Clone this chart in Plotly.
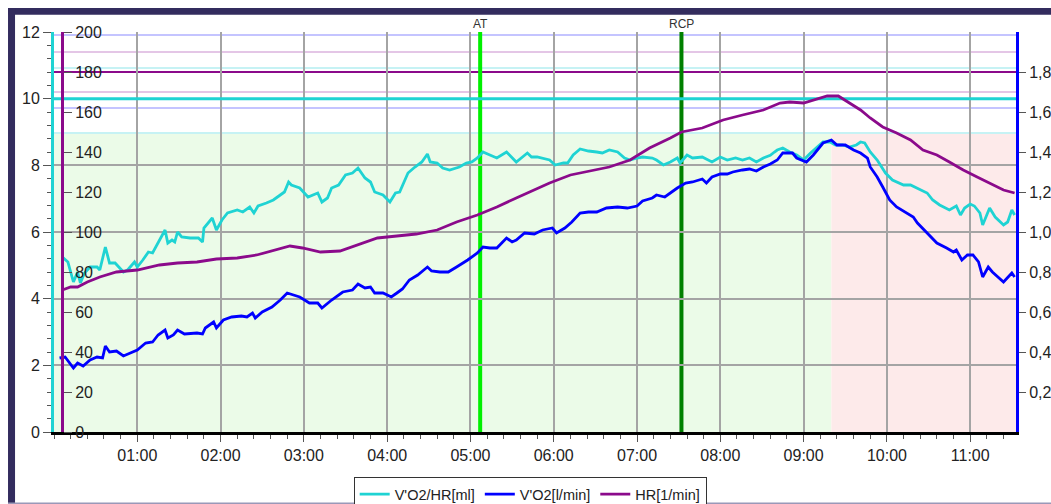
import plotly.graph_objects as go

# ---------------- data (time in seconds) ----------------
t_vo2hr = [6, 10, 14, 17, 19, 22, 26, 31, 33, 37, 40, 44, 50, 53, 58, 60, 64, 68, 71, 80, 82, 85, 87, 89, 92,
           98, 104, 107, 108, 114, 117, 121, 125, 132, 136, 141, 144, 147, 153, 158, 163, 166, 169, 171,
           177, 183, 190, 193, 197, 200, 205, 210, 215, 219, 224, 228, 231, 237, 242, 246, 249, 255, 260,
           265, 269, 271, 276, 280, 285, 292, 297, 301, 305, 309, 314, 319, 326, 330, 333, 341, 344,
           348, 352, 357, 361, 367, 370, 374, 379, 385, 391, 395, 400, 406, 411, 415, 420, 424, 431, 434,
           439, 444, 449, 451, 456, 460, 467, 474, 480, 485, 491, 496, 501, 506, 511, 516, 519,
           521, 525, 530, 535, 540, 545, 550, 554, 559, 563, 568, 573, 578, 581, 584, 588, 593, 599, 604,
           612, 617, 622, 629, 633, 638, 645, 650, 653, 656, 660, 663, 667, 669, 674, 678, 684, 687, 690, 692]
vo2hr = [5.25, 5.1, 4.5, 4.8, 4.47, 4.77, 4.95, 4.95, 4.86, 5.55, 5.07, 5.07, 4.8, 4.86, 5.1, 4.95, 5.16, 5.4, 5.37,
         6.06, 5.67, 5.76, 5.7, 6.0, 5.85, 5.82, 5.82, 5.7, 6.12, 6.42, 6.06, 6.36, 6.57, 6.66, 6.6, 6.75, 6.57,
         6.78, 6.87, 6.96, 7.11, 7.2, 7.5, 7.41,
         7.32, 7.05, 7.17, 6.9, 7.02, 7.32, 7.41, 7.71, 7.77, 7.92, 7.62, 7.5, 7.2, 7.11, 6.9, 7.17, 7.2, 7.77, 7.95,
         8.1, 8.34, 8.1, 8.07, 7.92, 7.86, 7.95, 8.07, 8.1, 8.22, 8.4, 8.31, 8.22, 8.4, 8.22, 8.1, 8.37, 8.25,
         8.25, 8.22, 8.16, 8.01, 8.07, 8.07, 8.31, 8.49, 8.43, 8.4, 8.37, 8.46, 8.4, 8.22, 8.16, 8.22, 8.25, 8.22,
         8.16, 8.01, 8.1, 8.22, 8.07, 8.31, 8.22, 8.25, 8.1, 8.25, 8.16, 8.22, 8.16, 8.22, 8.1, 8.22, 8.3, 8.4,
         8.46, 8.52, 8.4, 8.31, 8.16, 8.37, 8.55, 8.7, 8.7, 8.61, 8.61, 8.55, 8.61, 8.7, 8.67, 8.4, 8.16, 7.77,
         7.56, 7.41, 7.41, 7.32, 7.17, 6.96, 6.81, 6.66, 6.78, 6.51, 6.72, 6.84, 6.78, 6.57, 6.21, 6.72, 6.45,
         6.21, 6.3, 6.66, 6.51]

t_vo2 = [4, 8, 14, 17, 21, 26, 31, 35, 37, 40, 45, 50, 55, 60, 66, 71, 75, 80, 82, 86, 89, 94, 103, 107, 109,
         115, 117, 122, 128, 135, 139, 143, 145, 150, 157, 163, 168,
         177, 184, 190, 193, 200, 208, 215, 219, 224, 228, 231, 237, 243, 247, 251, 256, 262, 269, 272, 278,
         284, 290, 295, 298, 305, 309, 314, 319, 326, 330, 333, 339,
         346, 352, 359, 362, 368, 373, 379, 385, 391, 398, 406, 413, 420, 424, 431, 434, 440, 444, 449, 455,
         460, 467, 470, 474, 480, 485, 489, 496, 501, 506, 511, 516,
         521, 525, 532, 535, 542, 547, 554, 560, 564, 570, 576, 581, 586, 588, 593, 597, 602, 607, 614, 619,
         622, 629, 636, 643, 648, 650, 654, 658, 662, 666, 669, 673, 676, 684, 687, 690, 692]
vo2 = [0.37, 0.375, 0.32, 0.345, 0.33, 0.36, 0.375, 0.37, 0.43, 0.40, 0.405, 0.38, 0.395, 0.41, 0.445, 0.45,
       0.485, 0.51, 0.47, 0.485, 0.51, 0.49, 0.495, 0.49, 0.52, 0.55, 0.52, 0.56, 0.575, 0.58, 0.575, 0.595,
       0.57, 0.60, 0.625, 0.66, 0.695,
       0.675, 0.645, 0.645, 0.62, 0.66, 0.70, 0.71, 0.74, 0.72, 0.725, 0.695, 0.695, 0.675, 0.695, 0.715,
       0.76, 0.785, 0.825, 0.805, 0.80, 0.80, 0.825, 0.845, 0.86, 0.895, 0.925, 0.92, 0.92, 0.97, 0.95, 0.96,
       0.995,
       0.99, 1.01, 1.02, 0.995, 1.02, 1.05, 1.095, 1.10, 1.10, 1.12, 1.125, 1.12, 1.13, 1.155, 1.17, 1.185,
       1.175, 1.195, 1.22, 1.245, 1.25, 1.265, 1.245, 1.275, 1.29, 1.29, 1.30, 1.31, 1.315, 1.305, 1.325, 1.34,
       1.36, 1.395, 1.395, 1.37, 1.35, 1.385, 1.445, 1.46, 1.435, 1.435, 1.41, 1.395, 1.37, 1.325, 1.275,
       1.225, 1.16, 1.125, 1.095, 1.075, 1.045, 0.995, 0.945, 0.92, 0.90, 0.91, 0.86, 0.885, 0.885, 0.85,
       0.775, 0.825, 0.80, 0.75, 0.775, 0.795, 0.775]

t_hr = [6, 12, 17, 24, 33, 45, 60, 76, 89, 103, 117, 132, 146, 161, 170, 179, 192, 206, 218, 233, 247, 261,
        276, 290, 305, 319, 333, 346, 357, 372, 386, 400, 415, 429, 444, 452, 467, 482, 496, 511, 523, 530,
        540, 550, 557, 565, 573, 581, 588, 597, 607, 617, 626, 636, 645, 655, 665, 674, 684, 692]
hr = [71, 72.5, 72.5, 75, 77.5, 80, 81, 83.5, 84.5, 85, 86.5, 87, 88.5, 91.5, 93, 92, 90, 90.5, 93.5, 97, 98,
      99, 101, 105, 108.5, 112.5, 117, 121, 124.5, 128.5, 130.5, 132.5, 136, 142, 147, 150, 152, 156, 158.5,
      161, 164.5, 165, 164.5, 166.5, 168, 168, 164.5, 161, 157, 152.5, 149.5, 146, 141, 138.5, 135, 131,
      127.5, 124.5, 121, 119.5]

# events (s)
AT_S = 307
RCP_S = 452
RECOVERY_S = 560
T_END = 693

# reference levels
VO2HR_REFS = [8.97, 10.0, 10.92]
HR_REFS = [170, 180, 190]
VO2_REFS = [1.62, 1.985]

x_tickvals = [60, 120, 180, 240, 300, 360, 420, 480, 540, 600, 660]
x_ticktext = ["01:00", "02:00", "03:00", "04:00", "05:00", "06:00", "07:00", "08:00", "09:00", "10:00", "11:00"]
left_tickvals = [0, 2, 4, 6, 8, 10, 12]
hr_tickvals = [0, 20, 40, 60, 80, 100, 120, 140, 160, 180, 200]
right_tickvals = [0.2, 0.4, 0.6, 0.8, 1.0, 1.2, 1.4, 1.6, 1.8]
right_ticktext = ["0,2", "0,4", "0,6", "0,8", "1,0", "1,2", "1,4", "1,6", "1,8"]

CYAN = "#1fd3d3"
BLUE = "#0000ff"
PURPLE = "#8b0a8b"
FONT = "Liberation Sans, Arial, sans-serif"

fig = go.Figure()
# cyan reference level at 10 (drawn above the grid)
fig.add_trace(go.Scatter(x=[0, T_END], y=[VO2HR_REFS[1], VO2HR_REFS[1]], mode="lines",
                         line=dict(color=CYAN, width=3), showlegend=False, hoverinfo="skip", yaxis="y"))
fig.add_trace(go.Scatter(x=t_vo2hr, y=vo2hr, name="V'O2/HR[ml]", mode="lines",
                         line=dict(color=CYAN, width=2.8), yaxis="y"))
fig.add_trace(go.Scatter(x=t_vo2, y=vo2, name="V'O2[l/min]", mode="lines",
                         line=dict(color=BLUE, width=2.8), yaxis="y3"))
fig.add_trace(go.Scatter(x=t_hr, y=hr, name="HR[1/min]", mode="lines",
                         line=dict(color=PURPLE, width=2.8), yaxis="y2"))

def hline(yref, val, color, width):
    return dict(type="line", xref="x", yref=yref, x0=0, x1=T_END, y0=val, y1=val,
                line=dict(color=color, width=width), layer="below")

shapes = []
# background zones
shapes.append(dict(type="rect", xref="x", yref="y", x0=0, x1=RECOVERY_S, y0=0, y1=VO2HR_REFS[0],
                   fillcolor="#ebfbe8", line=dict(width=0), layer="below"))
shapes.append(dict(type="rect", xref="x", yref="y", x0=RECOVERY_S, x1=T_END, y0=0, y1=VO2HR_REFS[0],
                   fillcolor="#fdeaea", line=dict(width=0), layer="below"))
# reference lines
shapes.append(hline("y", VO2HR_REFS[0], "#c6f2f4", 2))
shapes.append(hline("y", VO2HR_REFS[2], "#c6f2f4", 2))
shapes.append(hline("y2", HR_REFS[0], "#e4c6e6", 2))
shapes.append(hline("y2", HR_REFS[2], "#e4c6e6", 2))
shapes.append(hline("y3", VO2_REFS[0], "#c4c4ff", 2))
shapes.append(hline("y3", VO2_REFS[1], "#c4c4ff", 2))
shapes.append(hline("y2", HR_REFS[1], PURPLE, 2))
# AT / RCP
shapes.append(dict(type="line", xref="x", yref="y", x0=AT_S, x1=AT_S, y0=0, y1=12,
                   line=dict(color="#00f000", width=4), layer="below"))
shapes.append(dict(type="line", xref="x", yref="y", x0=RCP_S, x1=RCP_S, y0=0, y1=12,
                   line=dict(color="#008000", width=4), layer="below"))
# frame
shapes.append(dict(type="rect", xref="paper", yref="paper", x0=-0.0478, x1=1.04, y0=1.043, y1=1.06,
                   fillcolor="#332c5e", line=dict(width=0), layer="above"))
shapes.append(dict(type="rect", xref="paper", yref="paper", x0=-0.0478, x1=-0.0405, y0=-0.2, y1=1.06,
                   fillcolor="#332c5e", line=dict(width=0), layer="above"))
shapes.append(dict(type="rect", xref="paper", yref="paper", x0=-0.0478, x1=1.04, y0=-0.18, y1=-0.176,
                   fillcolor="#9a98b8", line=dict(width=0), layer="above"))

annotations = [
    dict(x=AT_S, y=1.02, xref="x", yref="paper", text="AT", showarrow=False,
         font=dict(size=12, color="#333", family=FONT), yanchor="middle"),
    dict(x=RCP_S, y=1.02, xref="x", yref="paper", text="RCP", showarrow=False,
         font=dict(size=12, color="#333", family=FONT), yanchor="middle"),
]

fig.update_layout(
    width=1051, height=504,
    margin=dict(l=54, r=35, t=32, b=72, autoexpand=False),
    paper_bgcolor="white", plot_bgcolor="white",
    font=dict(family=FONT, size=16, color="#222"),
    shapes=shapes, annotations=annotations,
    showlegend=True,
    legend=dict(orientation="h", x=0.495, xanchor="center", y=-0.113, yanchor="top",
                bgcolor="white", bordercolor="#333", borderwidth=1,
                font=dict(size=14.5, family=FONT, color="#222")),
    xaxis=dict(range=[0, T_END], tickmode="array", tickvals=x_tickvals, ticktext=x_ticktext,
               showgrid=True, gridcolor="#a4a4a4", gridwidth=1.5, zeroline=False,
               showline=True, linecolor="black", linewidth=3,
               ticks="outside", ticklen=7, tickcolor="#555", tickwidth=1.2,
               minor=dict(tickmode="linear", tick0=0, dtick=12, ticks="outside", ticklen=4,
                          tickcolor="#555", showgrid=False),
               tickfont=dict(size=16), automargin=False),
    yaxis=dict(range=[0, 12], tickmode="array", tickvals=left_tickvals,
               showgrid=True, gridcolor="#a4a4a4", gridwidth=1.5, zeroline=False,
               showline=True, linecolor=CYAN, linewidth=3,
               ticks="outside", ticklen=8, tickcolor="#555",
               minor=dict(tickmode="linear", tick0=0, dtick=0.4, ticks="outside", ticklen=4,
                          tickcolor="#555", showgrid=False),
               tickfont=dict(size=16), automargin=False),
    yaxis2=dict(range=[0, 200], overlaying="y", anchor="free", position=0.0083, side="right",
                tickmode="array", tickvals=hr_tickvals, showgrid=False, zeroline=False,
                showline=True, linecolor=PURPLE, linewidth=3,
                ticks="outside", ticklen=8, tickcolor="#555", tickfont=dict(size=16), automargin=False),
    yaxis3=dict(range=[0, 2], overlaying="y", anchor="x", side="right",
                tickmode="array", tickvals=right_tickvals, ticktext=right_ticktext,
                showgrid=False, zeroline=False,
                showline=True, linecolor=BLUE, linewidth=3,
                ticks="outside", ticklen=7, tickcolor="#555", tickfont=dict(size=16), automargin=False),
)

fig.write_html("out.html", config={"displayModeBar": False},
               post_script="document.body.style.margin='0';document.body.style.overflow='hidden';")
